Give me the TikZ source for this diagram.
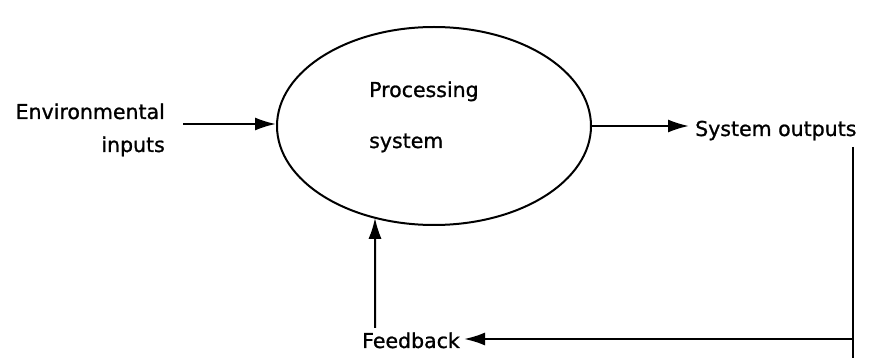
\documentclass[tikz,border=0pt]{standalone}
\usepackage{fontspec}
\setmainfont{DejaVu Sans}
\newfontfamily\lblfont[FakeBold=1]{DejaVu Sans}
\usetikzlibrary{arrows.meta,shapes.geometric,calc,intersections}
\begin{document}
\begin{tikzpicture}[x=1pt,y=-1pt,
  lbl/.style={inner sep=0pt,font=\lblfont\fontsize{20.5}{24}\selectfont},
  conn/.style={line width=2pt},
  arr/.style={conn,-{Latex[length=21pt,width=13pt]}}]
\useasboundingbox[fill=white] (0,0) rectangle (871,358);
\node[ellipse,draw,line width=2pt,minimum width=314pt,minimum height=198pt,inner sep=0pt,name path=ell] (proc) at (434,126) {};
\node[lbl,anchor=base west] (ptext) at (369,97) {Processing};
\node[lbl,anchor=base west] (stext) at (369,148) {system};
\node[lbl,anchor=base east] (env) at (165,119) {Environmental};
\node[lbl,anchor=base east] (inp) at (165,152) {inputs};
\node[lbl,anchor=base west] (out) at (695,136) {System outputs};
\node[lbl,anchor=base west] (fb) at (362,348) {Feedback};
\coordinate (inS) at (183,124);
\coordinate (outS) at (proc.east);
\coordinate (outE) at (689,125);
\coordinate (vtop) at (853,147);
\coordinate (vbot) at (853,358);
\coordinate (junc) at (853,339);
\coordinate (fbS) at (375,328);
\coordinate (fbE) at ($(fb.east)+(4,0)$);
\path[name path=up] (fbS) -- ++(0,-200);
\path[name intersections={of=up and ell,by={hit}}];
\draw[arr] (inS) -- (inS -| proc.west);
\draw[arr] (outS) -- (outS -| outE);
\draw[conn] (vtop) -- (vbot);
\draw[arr] (junc) -- (fbE |- junc);
\draw[arr] (fbS) -- (hit);
\end{tikzpicture}
\end{document}
